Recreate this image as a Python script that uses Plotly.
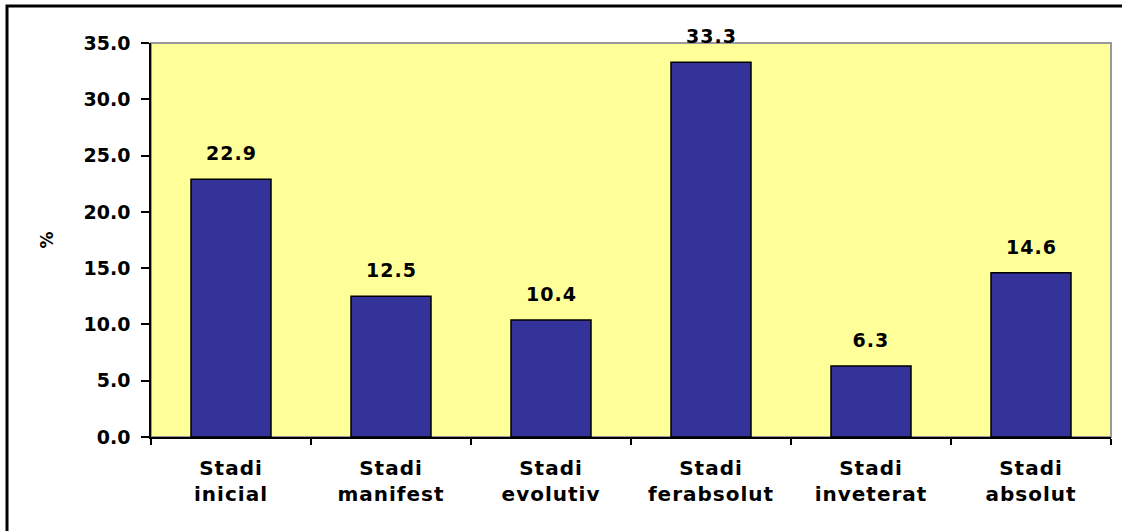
import plotly.graph_objects as go

categories = ["Stadi<br>inicial", "Stadi<br>manifest", "Stadi<br>evolutiv",
              "Stadi<br>ferabsolut", "Stadi<br>inveterat", "Stadi<br>absolut"]
values = [22.9, 12.5, 10.4, 33.3, 6.3, 14.6]
y_ticks = [0, 5, 10, 15, 20, 25, 30, 35]

FONT = "DejaVu Sans, Verdana, sans-serif"

fig = go.Figure()
fig.add_trace(go.Bar(
    x=categories, y=values,
    marker=dict(color="#333399", line=dict(color="black", width=1.5)),
    width=0.5,
))

for c, v in zip(categories, values):
    fig.add_annotation(x=c, y=v, text=f"<b>{v:.1f}</b>", showarrow=False,
                       yanchor="bottom", yshift=13,
                       font=dict(family=FONT, size=19, color="black"))

# outer chart frame
fig.add_shape(type="rect", xref="paper", yref="paper",
              x0=(7 - 151) / 960, x1=(1135 - 151) / 960,
              y0=(437 - 545) / 394, y1=(437 - 6) / 394,
              line=dict(color="black", width=3), fillcolor="rgba(0,0,0,0)")
# plot-area border (top/right)
fig.add_shape(type="rect", xref="paper", yref="paper", x0=0, x1=1, y0=0, y1=1,
              line=dict(color="#999999", width=2), layer="below")

fig.update_layout(
    width=1122, height=531,
    margin=dict(l=151, r=11, t=43, b=94),
    paper_bgcolor="white", plot_bgcolor="#FFFF99",
    showlegend=False,
    font=dict(family=FONT, color="black"),
    xaxis=dict(type="category", tickson="boundaries", ticks="outside", ticklen=6,
               tickcolor="black", tickwidth=1.5, showline=True, linecolor="black",
               linewidth=1.5, showgrid=False, zeroline=False, ticklabelstandoff=12,
               tickfont=dict(family=FONT, size=20, weight="bold")),
    yaxis=dict(range=[0, 35], tickvals=y_ticks, tickformat=".1f", ticks="outside",
               ticklen=8, tickcolor="black", tickwidth=1.5, showline=True,
               linecolor="black", linewidth=1.5, showgrid=False, zeroline=False,
               ticklabelstandoff=7,
               tickfont=dict(family=FONT, size=19, weight="bold"),
               title=dict(text="%", font=dict(family=FONT, size=17, weight="bold"),
                          standoff=26)),
)

# slightly widen the tracking of the bold labels
post = """
var gd = document.getElementById('{plot_id}');
gd.querySelectorAll('.xtick text, .annotation-text').forEach(function(t){
  t.style.letterSpacing = '1px';
});
"""

fig.write_html("out.html", post_script=post)
